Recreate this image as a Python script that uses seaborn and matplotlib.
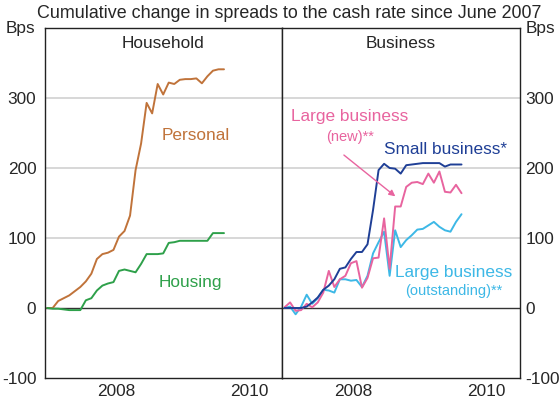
import pandas as pd
import matplotlib.pyplot as plt
import seaborn as sns

# Monthly data, June 2007 to February 2010 (bps, cumulative change)
months = pd.period_range("2007-06", "2010-02", freq="M")
personal = [0, 0, 10, 14, 18, 24, 30, 38, 49, 70, 77, 79, 83, 102, 110, 132, 197,
            235, 293, 278, 320, 305, 322, 320, 326, 327, 327, 328, 321, 331, 339, 341, 341]
housing = [0, -1, -1, -2, -3, -3, -3, 11, 14, 25, 32, 35, 37, 53, 55, 53, 51,
           63, 77, 77, 77, 78, 93, 94, 96, 96, 96, 96, 96, 96, 107, 107, 107]
small_business = [0, 0, 0, 0, 2, 8, 15, 26, 32, 41, 56, 58, 70, 80, 80, 91, 140,
                  197, 206, 200, 199, 192, 204, 205, 206, 207, 207, 207, 207, 202, 205, 205, 205]
large_new = [1, 8, -4, -3, 6, 1, 8, 22, 53, 30, 41, 46, 64, 67, 29, 43, 71,
             72, 128, 56, 145, 145, 173, 179, 180, 177, 192, 179, 195, 166, 165, 176, 164]
large_outstanding = [0, 2, -9, 2, 19, 6, 14, 26, 25, 22, 41, 41, 39, 40, 30, 46, 78,
                     94, 109, 46, 111, 87, 97, 104, 112, 113, 118, 123, 116, 111, 109, 123, 134]

yticks = [-100, 0, 100, 200, 300]

# x as decimal year, mid-month
x = [m.year + (m.month - 0.5) / 12 for m in months]
df = pd.DataFrame({"x": x, "Personal": personal, "Housing": housing,
                   "Small": small_business, "LargeNew": large_new,
                   "LargeOut": large_outstanding})

sns.set_style("white")
plt.rcParams["font.family"] = ["Liberation Sans", "DejaVu Sans"]
plt.rcParams["axes.unicode_minus"] = False

c_personal = "#c0733a"
c_housing = "#2ea04a"
c_small = "#1f3f96"
c_new = "#e8649f"
c_out = "#3db8e6"
fs = 12.4

fig = plt.figure(figsize=(5.59, 4.0), dpi=100)
ax1 = fig.add_axes([0.0798, 0.055, 0.4247, 0.875])
ax2 = fig.add_axes([0.5045, 0.055, 0.4250, 0.875])

for ax in (ax1, ax2):
    for v in (100, 200, 300):
        ax.axhline(v, color="#d4d4d4", lw=1.3, zorder=0)
    ax.axhline(0, color="#333333", lw=1.0, zorder=1)

sns.lineplot(data=df, x="x", y="Personal", ax=ax1, color=c_personal, lw=1.4)
sns.lineplot(data=df, x="x", y="Housing", ax=ax1, color=c_housing, lw=1.4)
sns.lineplot(data=df, x="x", y="LargeOut", ax=ax2, color=c_out, lw=1.4)
sns.lineplot(data=df, x="x", y="LargeNew", ax=ax2, color=c_new, lw=1.4)
sns.lineplot(data=df, x="x", y="Small", ax=ax2, color=c_small, lw=1.4)

for ax in (ax1, ax2):
    ax.set_xlim(2007.42, 2011.0)
    ax.set_ylim(-100, 400)
    ax.set_yticks(yticks)
    ax.set_xticks([2008, 2009, 2010])
    ax.set_xticklabels([])
    ax.set_xticks([2008.5, 2010.5], minor=True)
    ax.set_xticklabels(["2008", "2010"], minor=True, fontsize=fs)
    ax.tick_params(axis="x", which="major", direction="in", length=7, width=1, color="#333333")
    ax.tick_params(axis="x", which="minor", length=0, pad=4)
    ax.tick_params(axis="y", length=0, labelsize=fs, pad=6)
    for s in ax.spines.values():
        s.set_color("#222222")
        s.set_linewidth(1.0)
    ax.set_xlabel("")
    ax.set_ylabel("")

ax2.yaxis.tick_right()
ax2.tick_params(axis="y", length=0, labelsize=fs, pad=4)

ax1.text(0.5, 0.955, "Household", transform=ax1.transAxes, ha="center", va="center", fontsize=fs)
ax2.text(0.5, 0.955, "Business", transform=ax2.transAxes, ha="center", va="center", fontsize=fs)

ax1.text(2009.70, 247, "Personal", color=c_personal, ha="center", va="center", fontsize=fs)
ax1.text(2009.62, 37, "Housing", color=c_housing, ha="center", va="center", fontsize=fs)

ax2.text(2008.44, 273, "Large business", color=c_new, ha="center", va="center", fontsize=fs)
ax2.text(2008.44, 244, "(new)**", color=c_new, ha="center", va="center", fontsize=10.5)
ax2.text(2009.89, 227, "Small business*", color=c_small, ha="center", va="center", fontsize=fs)
ax2.text(2010.01, 51, "Large business", color=c_out, ha="center", va="center", fontsize=fs)
ax2.text(2010.01, 25, "(outstanding)**", color=c_out, ha="center", va="center", fontsize=10.5)
ax2.annotate("", xy=(2009.16, 157), xytext=(2008.32, 221),
             arrowprops=dict(arrowstyle="-|>", color=c_new, lw=1.0, mutation_scale=9))

fig.text(0.036, 0.93, "Bps", ha="center", va="center", fontsize=fs)
fig.text(0.966, 0.93, "Bps", ha="center", va="center", fontsize=fs)
fig.text(0.517, 0.965, "Cumulative change in spreads to the cash rate since June 2007",
         ha="center", va="center", fontsize=12.9)

fig.savefig("out.png", dpi=100)
